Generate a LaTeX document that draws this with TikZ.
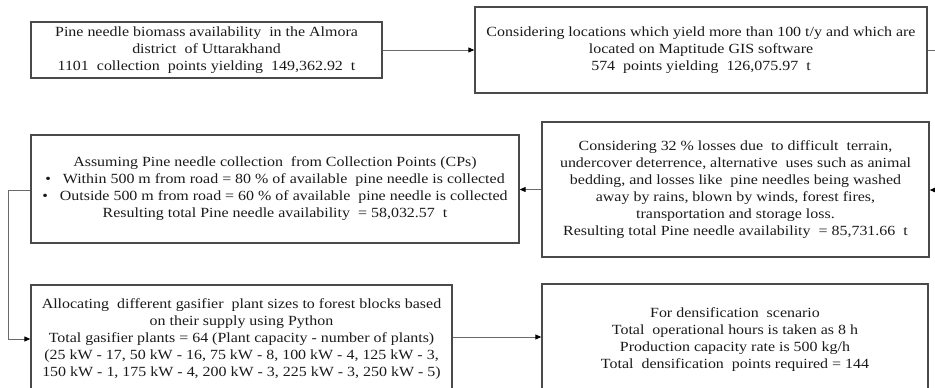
\documentclass[tikz,border=0pt]{standalone}
\usepackage{fontspec}
\setmainfont{Liberation Serif}[FakeStretch=1.14]
\usetikzlibrary{arrows.meta}
\definecolor{boxline}{HTML}{4A4A4A}
\definecolor{linkline}{HTML}{6A6A6A}
\definecolor{ink}{HTML}{1A1A1A}
\begin{document}
\begin{tikzpicture}[x=1pt,y=1pt,
  stage/.style={draw=boxline, line width=1.3pt, rectangle, align=center,
    text=ink, inner sep=0pt, font=\fontsize{14}{17}\selectfont},
  link/.style={draw=linkline, line width=0.9pt,
    -{Triangle[length=6pt,width=5pt,color=black]}},
  plain/.style={draw=linkline, line width=0.9pt}]
\useasboundingbox (0,0) rectangle (935,-388);

% stages of the supply assessment
\node[stage, minimum width=351, minimum height=56] (avail) at (206.5,-50)
  {Pine needle biomass availability\ \ in the Almora\\
   district\ \ of Uttarakhand\\
   1101\ \ collection\ \ points yielding\ \ 149,362.92\ \ t};

\node[stage, minimum width=452, minimum height=86] (gis) at (701,-50)
  {Considering locations which yield more than 100 t/y and which are\\
   located on Maptitude GIS software\\
   574\ \ points yielding\ \ 126,075.97\ \ t};

\node[stage, minimum width=387, minimum height=135] (loss) at (735.5,-189.5)
  {Considering 32 \% losses due\ \ to difficult\ \ terrain,\\
   undercover deterrence, alternative\ \ uses such as animal\\
   bedding, and losses like\ \ pine needles being washed\\
   away by rains, blown by winds, forest fires,\\
   transportation and storage loss.\\
   Resulting total Pine needle availability\ \ = 85,731.66\ \ t};

\node[stage, minimum width=488, minimum height=108] (collect) at (275,-189)
  {Assuming Pine needle collection\ \ from Collection Points (CPs)\\
   \textbullet\ \ \ Within 500 m from road = 80 \% of available\ \ pine needle is collected\\
   \textbullet\ \ \ Outside 500 m from road = 60 \% of available\ \ pine needle is collected\\
   Resulting total Pine needle availability\ \ = 58,032.57\ \ t};

\node[stage, minimum width=421, minimum height=108] (gasifier) at (241.5,-339)
  {Allocating\ \ different gasifier\ \ plant sizes to forest blocks based\\
   on their supply using Python\\
   Total gasifier plants = 64 (Plant capacity - number of plants)\\
   (25 kW - 17, 50 kW - 16, 75 kW - 8, 100 kW - 4, 125 kW - 3,\\
   150 kW - 1, 175 kW - 4, 200 kW - 3, 225 kW - 3, 250 kW - 5)};

\node[stage, minimum width=386, minimum height=111] (densify) at (735,-339.5)
  {For densification\ \ scenario\\
   Total\ \ operational hours is taken as 8 h\\
   Production capacity rate is 500 kg/h\\
   Total\ \ densification\ \ points required = 144};

% turning points of the routed connectors
\coordinate (outR) at (950,-50);
\coordinate (outRdown) at (950,-190);
\coordinate (leftTop) at (8,-190);
\coordinate (leftBot) at (8,-339);

% connectors
\draw[link] (avail.east) -- (avail.east -| gis.west);
\draw[link] (gis.east) -- (outR) -- (outRdown) -- (loss.east |- outRdown);
\draw[link] (loss.west |- loss.center) -- (collect.east |- loss.center);
\draw[link] (collect.west |- leftTop) -- (leftTop) -- (leftBot) -- (gasifier.west |- leftBot);
\draw[link] (gasifier.east |- 0,-337) -- (densify.west |- 0,-337);
\end{tikzpicture}
\end{document}
